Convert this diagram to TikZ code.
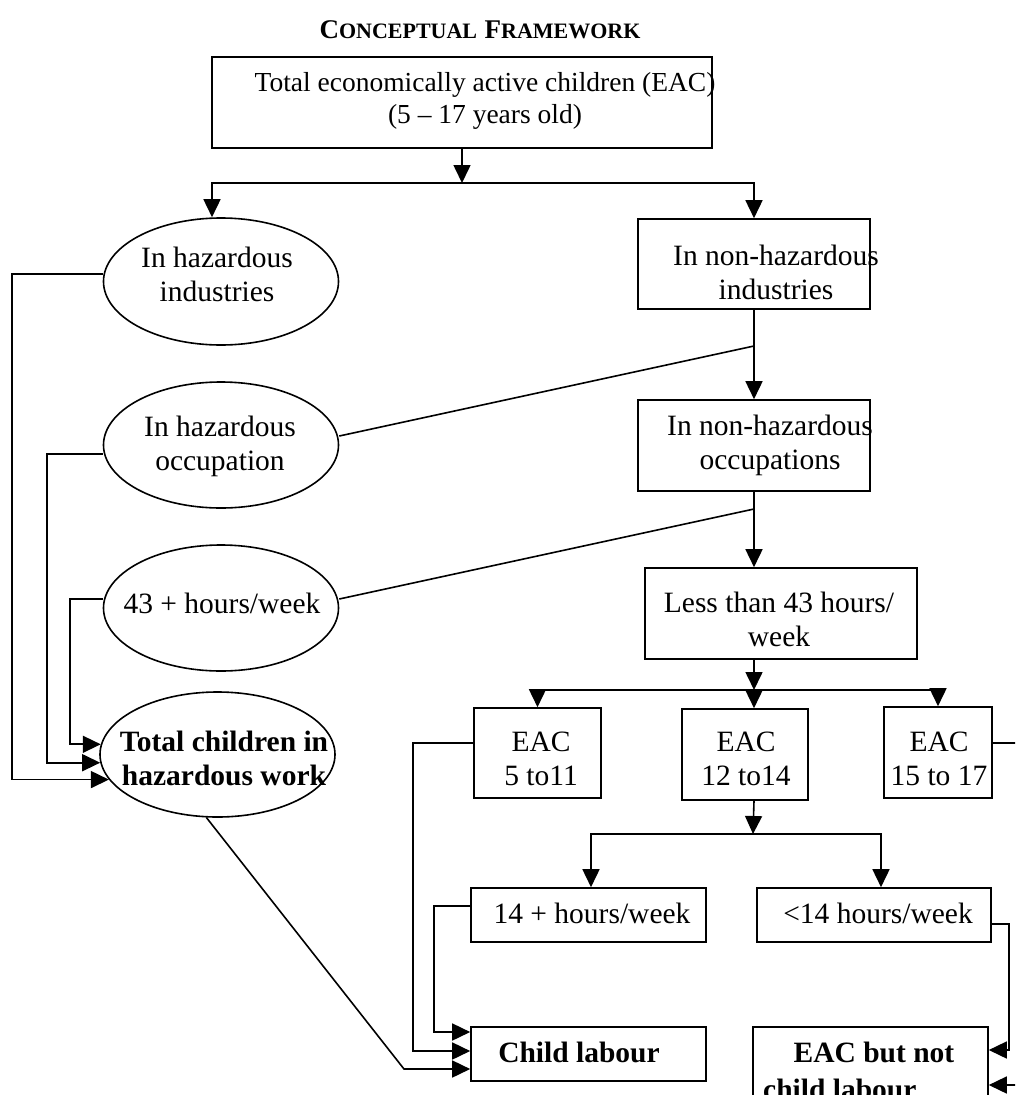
\documentclass[tikz,border=0pt]{standalone}
\usepackage{fontspec}
\setmainfont{Liberation Serif}
\usetikzlibrary{arrows.meta,shapes.geometric}
\begin{document}
\begin{tikzpicture}[x=1pt,y=-1pt,
  every node/.style={inner sep=0pt, align=center},
  txt/.style={font=\fontsize{29.5}{34}\selectfont},
  btxt/.style={font=\fontsize{29.5}{33.5}\selectfont\bfseries},
  boxn/.style={draw, line width=1.6pt, rectangle},
  ellip/.style={draw, line width=1.6pt, ellipse, minimum width=235pt, minimum height=126pt},
  conn/.style={line width=1.6pt},
  arr/.style={conn, -{Triangle[length=18pt,width=17pt]}}]
\useasboundingbox (0,0) rectangle (1015,1095);
\clip (0,0) rectangle (1015,1095);

% title
\node[anchor=base, font=\bfseries] (title) at (480,38)
  {{\fontsize{27}{30}\selectfont C}{\fontsize{22}{30}\selectfont ONCEPTUAL}\hspace{5pt} {\fontsize{27}{30}\selectfont F}{\fontsize{22}{30}\selectfont RAMEWORK}};

% boxes
\node[boxn, minimum width=500pt, minimum height=91pt] (top) at (462,102.5) {};
\node[font=\fontsize{27.5}{32}\selectfont] (topt) at (485,101) {Total economically active children (EAC)\\(5 -- 17 years old)};
\node[boxn, minimum width=232pt, minimum height=90pt] (nhi) at (754,264) {};
\node[txt] (nhit) at (776,272.5) {In non-hazardous\\industries};
\node[boxn, minimum width=232pt, minimum height=91pt] (nho) at (754,445.5) {};
\node[txt] (nhot) at (770,445.5) {In non-hazardous\\occupations};
\node[boxn, minimum width=272pt, minimum height=91pt] (l43) at (781,613.5) {};
\node[txt] (l43t) at (779,619.5) {Less than 43 hours/\\week};
\node[boxn, minimum width=127pt, minimum height=90pt] (e511) at (537.5,753) {};
\node[txt] (e511t) at (541,759) {EAC\\5 to11};
\node[boxn, minimum width=126pt, minimum height=91pt] (e1214) at (745,754.5) {};
\node[txt] (e1214t) at (746,759) {EAC\\12 to14};
\node[boxn, minimum width=108pt, minimum height=91pt] (e1517) at (938,752.5) {};
\node[txt] (e1517t) at (939,759) {EAC\\15 to 17};
\node[boxn, minimum width=235pt, minimum height=54pt] (h14p) at (588.5,915) {};
\node[txt] (h14pt) at (592,913) {14 + hours/week};
\node[boxn, minimum width=234pt, minimum height=54pt] (h14m) at (874,915) {};
\node[txt] (h14mt) at (878,913) {<14 hours/week};
\node[boxn, minimum width=235pt, minimum height=54pt] (cl) at (588.5,1054) {};
\node[btxt] (clt) at (579,1052) {Child labour};
\node[boxn, minimum width=235pt, minimum height=91pt] (ebn) at (870.5,1072.5) {};
\node[btxt] (ebnt1) at (874,1052) {EAC but not};
\node[btxt, anchor=west] (ebnt2) at (763,1089) {child labour};

% ellipses
\node[ellip, minimum height=127pt] (ehi) at (221,281.5) {};
\node[txt] (ehit) at (217,274.5) {In hazardous\\industries};
\node[ellip] (eho) at (221,445) {};
\node[txt] (ehot) at (220,446.5) {In hazardous\\occupation};
\node[ellip] (e43) at (221,608) {};
\node[txt] (e43t) at (222,603) {43 + hours/week};
\node[ellip, minimum height=125pt] (etc) at (217.5,754.5) {};
\node[btxt] (etct) at (224,758.5) {Total children in\\hazardous work};

% junctions
\coordinate (jtop) at (462,183);
\coordinate (d1) at (754,346);
\coordinate (d2) at (754,509);
\coordinate (j2) at (754,690);
\coordinate (j3) at (753,834);
\coordinate (dbend) at (404,1069);

% connectors
\draw[arr] (top.south) -- (jtop);
\draw[arr] (jtop) -| ([xshift=-9pt]ehi.north);
\draw[arr] (jtop) -| (nhi.north);
\draw[arr] (nhi.south) -- (nho.north);
\draw[conn] (d1) -- ([yshift=9pt]eho.east);
\draw[arr] (nho.south) -- (nho.south |- l43.north);
\draw[conn] (d2) -- ([yshift=9pt]e43.east);
\draw[arr] (l43.south -| nho.south) -- (j2);
\draw[arr] (j2) -| (e511.north);
\draw[arr] (j2) -| (e1517.north);
\draw[arr] (j2) -- (j2 |- e1214.north);
\draw[arr] (j2 |- e1214.south) -- (j3);
\draw[arr] (j3) -| ([xshift=2.5pt]h14p.north);
\draw[arr] (j3) -| ([xshift=7pt]h14m.north);

% hazardous feeders
\draw[arr] ([yshift=7.5pt]ehi.west) -- ++(-90.5,0) |- (etc.193);
\draw[arr] ([yshift=-9pt]eho.west) -- ++(-55.5,0) |- (etc.184);
\draw[arr] ([yshift=9pt]e43.west) -- ++(-32.5,0) |- (etc.175);

% child labour feeders
\draw[arr] (etc.260) -- (dbend) -- ([yshift=-15pt]cl.west);
\draw[arr] ([yshift=10pt]e511.west) -- ++(-60,0) |- ([yshift=3pt]cl.west);
\draw[arr] ([yshift=9pt]h14p.west) -- ++(-36,0) |- ([yshift=22pt]cl.west);

% not child labour feeders
\draw[arr] ([yshift=-9pt]h14m.east) -- ++(17,0) |- ([yshift=22.5pt]ebn.east);
\draw[arr] ([yshift=9.5pt]e1517.east) -- ++(33,0) |- ([yshift=-12.5pt]ebn.east);
\end{tikzpicture}
\end{document}
